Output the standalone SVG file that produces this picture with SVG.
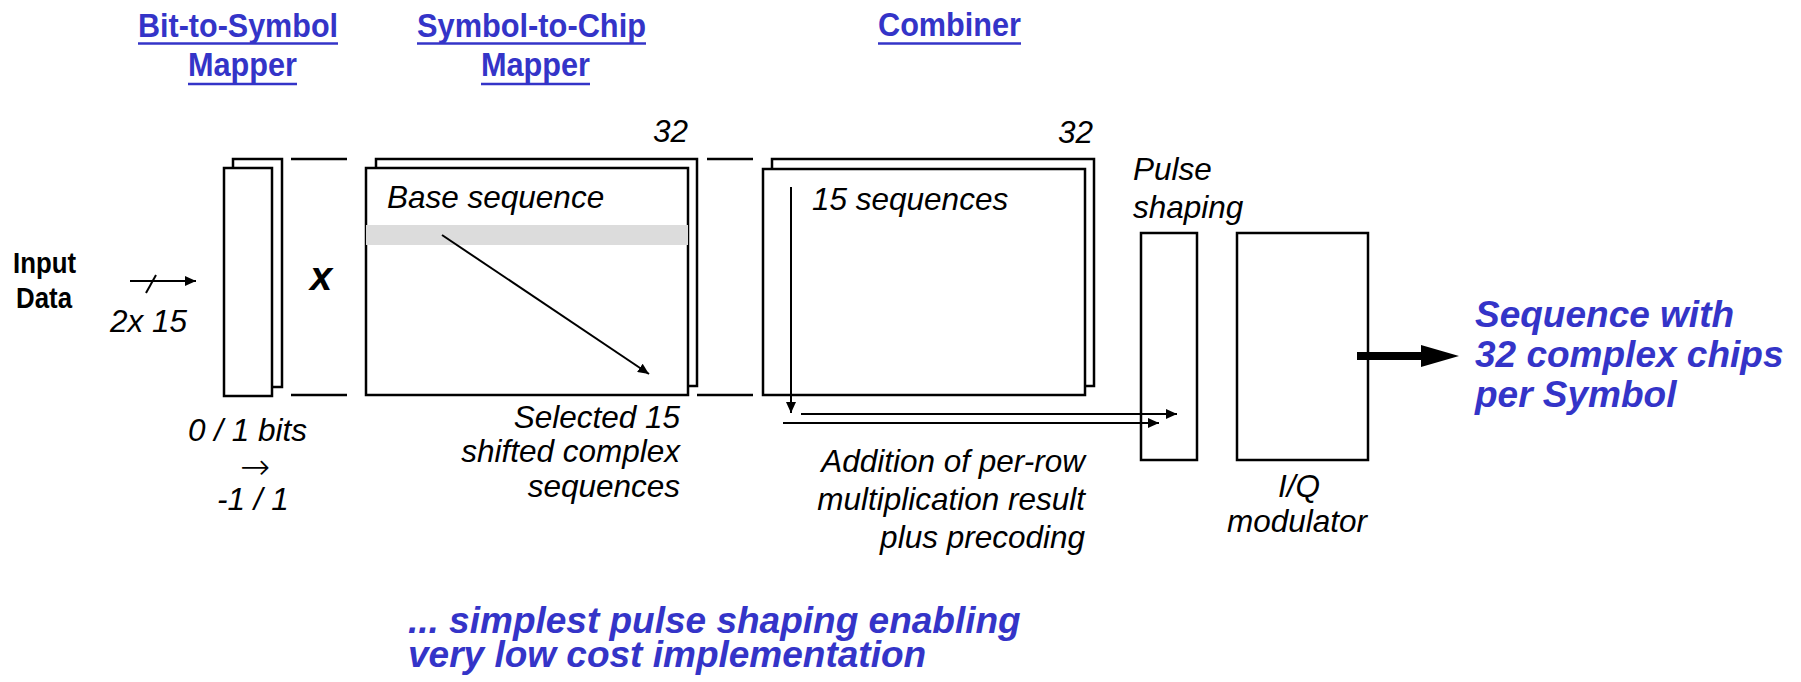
<svg xmlns="http://www.w3.org/2000/svg" width="1801" height="682" viewBox="0 0 1801 682">
<style>
.box{fill:#fff;stroke:#000;stroke-width:2.5}
.ln{stroke:#000;stroke-width:2.5;fill:none}
.thin{stroke:#000;stroke-width:2;fill:none}
.hdr{font-family:"Liberation Sans",Arial,sans-serif;font-weight:bold;font-size:34px;fill:#3434c8}
.ul{stroke:#3434c8;stroke-width:2.5}
.it{font-family:"Liberation Sans",Arial,sans-serif;font-style:italic;font-size:31.5px;fill:#000}
.bl{font-family:"Liberation Sans",Arial,sans-serif;font-weight:bold;font-style:italic;font-size:37px;fill:#3434c8}
.bd{font-family:"Liberation Sans",Arial,sans-serif;font-weight:bold;font-size:29px;fill:#000}
.end{text-anchor:end}
</style>
<defs>
<marker id="ah" markerUnits="userSpaceOnUse" markerWidth="11" markerHeight="10" refX="11" refY="5" orient="auto">
<path d="M0,0 L11,5 L0,10 z" fill="#000"/>
</marker>
</defs>
<rect width="1801" height="682" fill="#fff"/>

<g id="headers">
<text class="hdr" x="138" y="37" textLength="200" lengthAdjust="spacingAndGlyphs">Bit-to-Symbol</text>
<line class="ul" x1="138" y1="43.5" x2="338" y2="43.5"/>
<text class="hdr" x="188" y="76" textLength="109" lengthAdjust="spacingAndGlyphs">Mapper</text>
<line class="ul" x1="188" y1="84" x2="297" y2="84"/>
<text class="hdr" x="417" y="37" textLength="229" lengthAdjust="spacingAndGlyphs">Symbol-to-Chip</text>
<line class="ul" x1="417" y1="43.5" x2="646" y2="43.5"/>
<text class="hdr" x="481" y="76" textLength="109" lengthAdjust="spacingAndGlyphs">Mapper</text>
<line class="ul" x1="481" y1="84" x2="590" y2="84"/>
<text class="hdr" x="878" y="36" textLength="143" lengthAdjust="spacingAndGlyphs">Combiner</text>
<line class="ul" x1="878" y1="43.5" x2="1021" y2="43.5"/>
</g>

<g id="input">
<text class="bd" x="13" y="273" textLength="63" lengthAdjust="spacingAndGlyphs">Input</text>
<text class="bd" x="16" y="308" textLength="56" lengthAdjust="spacingAndGlyphs">Data</text>
<text class="it" x="110" y="332">2x 15</text>
</g>

<g id="bit-mapper">
<rect class="box" x="233" y="159" width="49" height="228"/>
<rect class="box" x="224" y="168" width="48" height="228"/>
<text class="it" x="188" y="441">0 / 1 bits</text>
<text x="255" y="479" text-anchor="middle" style="font-family:'DejaVu Sans',sans-serif;font-weight:200;font-size:36px">→</text>
<text class="it" x="217" y="510">-1 / 1</text>
</g>

<g id="multiply">
<line class="ln" x1="291" y1="159" x2="347" y2="159"/>
<line class="ln" x1="291" y1="395" x2="347" y2="395"/>
<text x="310" y="290" style="font-family:'Liberation Sans',Arial,sans-serif;font-weight:bold;font-style:italic;font-size:40px">x</text>
</g>

<g id="chip-mapper">
<rect class="box" x="376" y="159" width="321" height="227"/>
<rect class="box" x="366" y="168" width="322" height="227"/>
<rect x="366" y="225" width="322" height="20" fill="#dcdcdc"/>
<text class="it" x="387" y="208">Base sequence</text>
<text class="it" x="653" y="142">32</text>
<text class="it end" x="680" y="428">Selected 15</text>
<text class="it end" x="680" y="462">shifted complex</text>
<text class="it end" x="680" y="497">sequences</text>
</g>

<g id="bracket2">
<line class="ln" x1="707" y1="159" x2="753" y2="159"/>
<line class="ln" x1="697" y1="395" x2="753" y2="395"/>
</g>

<g id="combiner">
<rect class="box" x="772" y="159" width="322" height="227"/>
<rect class="box" x="763" y="169" width="322" height="226"/>
<text class="it" x="812" y="210">15 sequences</text>
<text class="it" x="1058" y="143">32</text>
<text class="it end" x="1085" y="472">Addition of per-row</text>
<text class="it end" x="1085" y="510">multiplication result</text>
<text class="it end" x="1085" y="548">plus precoding</text>
</g>

<g id="pulse-shaping">
<text class="it" x="1133" y="180">Pulse</text>
<text class="it" x="1133" y="218">shaping</text>
<rect class="box" x="1141" y="233" width="56" height="227"/>
</g>

<g id="iq-modulator">
<rect class="box" x="1237" y="233" width="131" height="227"/>
<text class="it" x="1278" y="497">I/Q</text>
<text class="it" x="1227" y="532">modulator</text>
</g>

<g id="output">
<text class="bl" x="1475" y="327">Sequence with</text>
<text class="bl" x="1475" y="367">32 complex chips</text>
<text class="bl" x="1475" y="407">per Symbol</text>
</g>

<g id="footer">
<text class="bl" x="408" y="633">... simplest pulse shaping enabling</text>
<text class="bl" x="408" y="667">very low cost implementation</text>
</g>

<g id="connectors">
<line class="thin" x1="130" y1="281" x2="196" y2="281" marker-end="url(#ah)"/>
<line class="thin" x1="146" y1="293" x2="156" y2="275"/>
<line class="thin" x1="442" y1="235" x2="649" y2="374" marker-end="url(#ah)"/>
<line class="thin" x1="791" y1="187" x2="791" y2="413" marker-end="url(#ah)"/>
<line class="thin" x1="801" y1="414" x2="1177" y2="414" marker-end="url(#ah)"/>
<line class="thin" x1="783" y1="423" x2="1159" y2="423" marker-end="url(#ah)"/>
<polygon points="1357,352 1421,352 1421,345 1459,356 1421,367 1421,360 1357,360" fill="#000"/>
</g>
</svg>
